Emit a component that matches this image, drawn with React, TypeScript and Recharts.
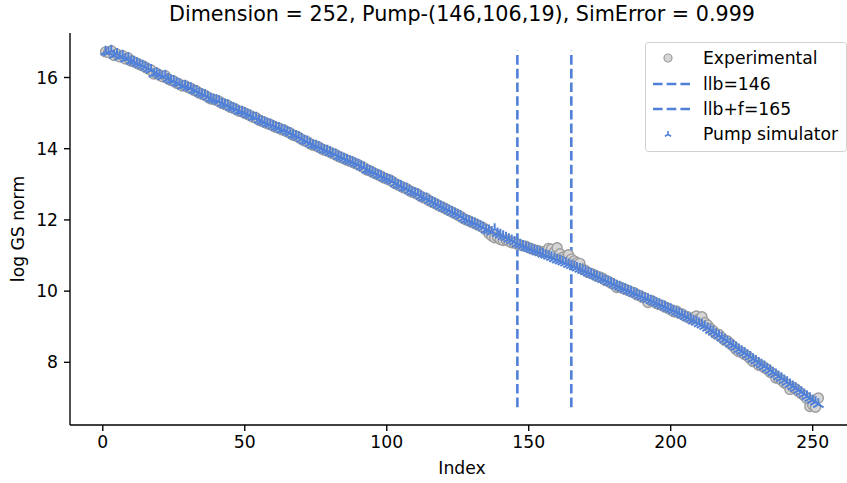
import React from "react";
import { ScatterChart, Scatter, XAxis, YAxis, ReferenceLine } from "recharts";

// Experimental log GS norm profile, indices 1..135 (simulator copies these)
const expHead: number[] = [
  16.72, 16.70, 16.75, 16.62, 16.66, 16.58, 16.61, 16.52, 16.55, 16.46,
  16.44, 16.40, 16.36, 16.33, 16.29, 16.24, 16.21, 16.10, 16.12, 16.07,
  16.02, 16.05, 15.96, 15.92, 15.90, 15.84, 15.82, 15.76, 15.77, 15.72,
  15.70, 15.64, 15.62, 15.56, 15.53, 15.50, 15.45, 15.40, 15.38, 15.36,
  15.33, 15.27, 15.24, 15.22, 15.16, 15.14, 15.10, 15.05, 15.04, 15.00,
  14.96, 14.93, 14.88, 14.87, 14.80, 14.77, 14.74, 14.70, 14.68, 14.64,
  14.60, 14.58, 14.53, 14.52, 14.47, 14.44, 14.38, 14.36, 14.32, 14.27,
  14.22, 14.20, 14.14, 14.10, 14.08, 14.05, 14.00, 13.96, 13.94, 13.90,
  13.86, 13.84, 13.78, 13.75, 13.72, 13.68, 13.65, 13.62, 13.58, 13.55,
  13.50, 13.47, 13.40, 13.38, 13.34, 13.30, 13.26, 13.23, 13.18, 13.15,
  13.12, 13.08, 13.02, 12.98, 12.95, 12.90, 12.88, 12.82, 12.78, 12.75,
  12.72, 12.66, 12.62, 12.60, 12.54, 12.50, 12.46, 12.42, 12.38, 12.34,
  12.30, 12.26, 12.22, 12.18, 12.14, 12.10, 12.04, 12.00, 11.97, 11.93,
  11.90, 11.86, 11.82, 11.78, 11.72,
];

// Experimental, indices 136..252
const expTail: number[] = [
  11.62, 11.55, 11.50, 11.52, 11.45, 11.42, 11.44, 11.40, 11.36, 11.35,
  11.32, 11.30, 11.27, 11.26, 11.22, 11.19, 11.16, 11.14, 11.12, 11.10,
  11.12, 11.20, 11.18, 11.10, 11.22, 11.05, 10.95, 10.92, 11.02, 10.90,
  10.85, 10.80, 10.78, 10.62, 10.58, 10.52, 10.50, 10.46, 10.42, 10.40,
  10.36, 10.30, 10.28, 10.22, 10.18, 10.10, 10.12, 10.08, 10.05, 10.02,
  9.98, 9.96, 9.90, 9.88, 9.82, 9.80, 9.68, 9.74, 9.70, 9.65,
  9.62, 9.60, 9.55, 9.52, 9.48, 9.42, 9.44, 9.38, 9.36, 9.30,
  9.28, 9.22, 9.25, 9.30, 9.22, 9.28, 9.12, 9.05, 8.95, 8.88,
  8.80, 8.78, 8.70, 8.62, 8.60, 8.52, 8.45, 8.36, 8.30, 8.28,
  8.22, 8.18, 8.10, 8.02, 8.00, 7.92, 7.90, 7.85, 7.80, 7.72,
  7.68, 7.56, 7.55, 7.50, 7.42, 7.38, 7.24, 7.30, 7.25, 7.18,
  7.12, 7.06, 6.98, 6.76, 6.80, 6.74, 7.00,
];

// Pump simulator, indices 136..252
const simTail: number[] = [
  11.70, 11.66, 11.74, 11.62, 11.58, 11.54, 11.50, 11.46, 11.42, 11.38,
  11.33, 11.30, 11.27, 11.23, 11.20, 11.17, 11.14, 11.11, 11.08, 11.04,
  11.01, 10.98, 10.95, 10.91, 10.88, 10.85, 10.82, 10.79, 10.75, 10.72,
  10.69, 10.65, 10.62, 10.58, 10.55, 10.51, 10.48, 10.44, 10.41, 10.37,
  10.33, 10.30, 10.26, 10.23, 10.19, 10.15, 10.12, 10.08, 10.05, 10.01,
  9.98, 9.94, 9.91, 9.87, 9.84, 9.80, 9.77, 9.73, 9.70, 9.66,
  9.63, 9.59, 9.56, 9.52, 9.49, 9.45, 9.41, 9.37, 9.33, 9.29,
  9.25, 9.21, 9.17, 9.13, 9.09, 9.05, 9.01, 8.96, 8.90, 8.85,
  8.79, 8.74, 8.69, 8.63, 8.58, 8.52, 8.47, 8.42, 8.36, 8.31,
  8.26, 8.20, 8.15, 8.09, 8.04, 7.98, 7.93, 7.88, 7.82, 7.77,
  7.71, 7.66, 7.60, 7.55, 7.49, 7.44, 7.38, 7.32, 7.27, 7.21,
  7.16, 7.10, 7.04, 6.99, 6.93, 6.88, 6.82,
];

const llb = 146;
const llbF = 165;
const xTicks = [0, 50, 100, 150, 200, 250];
const yTicks = [8, 10, 12, 14, 16];
const titleText = "Dimension = 252, Pump-(146,106,19), SimError = 0.999";
const legendLabels = ["Experimental", "llb=146", "llb+f=165", "Pump simulator"];

const experimental = [...expHead, ...expTail];
const simulated = [...expHead, ...simTail];
const expData = experimental.map((v, i) => ({ x: i + 1, y: v }));
const simData = simulated.map((v, i) => ({ x: i + 1, y: v }));
const yMin = Math.min(...experimental);
const yMax = Math.max(...experimental);

const BLUE = "#5080d8";
const FONT = "DejaVu Sans, sans-serif";
const DASH = "9.6 4.1";

const CircleShape = (p: any) => (
  <circle cx={p.cx} cy={p.cy} r={5} fill="#d6d6d6" stroke="#9c9c9c" strokeWidth={1.4} />
);

const triPath = (cx: number, cy: number, r: number) =>
  `M${cx},${cy}L${cx},${cy - r}M${cx},${cy}L${cx - 0.866 * r},${cy + 0.5 * r}M${cx},${cy}L${cx + 0.866 * r},${cy + 0.5 * r}`;

const TriShape = (p: any) => (
  <path d={triPath(p.cx, p.cy, 6)} stroke={BLUE} strokeWidth={2} fill="none" />
);

const tickStyle = { fontSize: 17.2, fontFamily: FONT, fill: "#000" };
const axisStroke = { stroke: "#000", strokeWidth: 1.38 };

export default function App() {
  const lx = 668;
  const tx = 703;
  const rows = [58, 84, 109, 134];
  return (
    <div style={{ position: "absolute", left: 0, top: 0, width: 847, height: 483, overflow: "hidden", background: "#fff" }}>
      <ScatterChart width={870} height={483} margin={{ top: 33, right: 16, bottom: 8, left: 0 }}>
        <XAxis
          xAxisId="top"
          orientation="top"
          type="number"
          dataKey="x"
          domain={[-11.55, 264.55]}
          height={0}
          tick={false}
          tickLine={false}
          axisLine={axisStroke}
        />
        <XAxis
          type="number"
          dataKey="x"
          domain={[-11.55, 264.55]}
          ticks={xTicks}
          allowDataOverflow
          height={50}
          tickSize={6}
          tickMargin={5}
          tick={tickStyle}
          axisLine={axisStroke}
          tickLine={axisStroke}
        />
        <YAxis
          type="number"
          dataKey="y"
          domain={[6.24, 17.25]}
          ticks={yTicks}
          allowDataOverflow
          width={70}
          tickSize={6}
          tickMargin={6}
          tick={tickStyle}
          axisLine={axisStroke}
          tickLine={axisStroke}
        />
        <Scatter data={expData} shape={CircleShape} isAnimationActive={false} />
        <ReferenceLine
          segment={[{ x: llb, y: yMin }, { x: llb, y: yMax }]}
          stroke={BLUE}
          strokeWidth={2.6}
          strokeDasharray={DASH}
          ifOverflow="visible"
        />
        <ReferenceLine
          segment={[{ x: llbF, y: yMin }, { x: llbF, y: yMax }]}
          stroke={BLUE}
          strokeWidth={2.6}
          strokeDasharray={DASH}
          ifOverflow="visible"
        />
        <Scatter data={simData} shape={TriShape} isAnimationActive={false} />
      </ScatterChart>
      <svg width={847} height={483} style={{ position: "absolute", left: 0, top: 0, pointerEvents: "none" }}>
        <text x={462} y={21} textAnchor="middle" fontFamily={FONT} fontSize={20.7} fill="#000">
          {titleText}
        </text>
        <text x={462} y={474} textAnchor="middle" fontFamily={FONT} fontSize={17.2} fill="#000">
          Index
        </text>
        <text
          x={0}
          y={0}
          transform="translate(24,229) rotate(-90)"
          textAnchor="middle"
          fontFamily={FONT}
          fontSize={17.2}
          fill="#000"
        >
          log GS norm
        </text>
        <rect x={645.5} y={42.5} width={201} height={109} rx={3} fill="#fff" fillOpacity={0.8} stroke="#d0d0d0" strokeWidth={1} />
        <circle cx={lx} cy={rows[0]} r={4} fill="#d6d6d6" stroke="#9c9c9c" strokeWidth={1.2} />
        <line x1={653} x2={690} y1={rows[1]} y2={rows[1]} stroke={BLUE} strokeWidth={2.6} strokeDasharray={DASH} />
        <line x1={653} x2={690} y1={rows[2]} y2={rows[2]} stroke={BLUE} strokeWidth={2.6} strokeDasharray={DASH} />
        <path d={triPath(lx, rows[3] + 0.5, 3.6)} stroke={BLUE} strokeWidth={1.6} fill="none" />
        {legendLabels.map((t, i) => (
          <text key={t} x={tx} y={rows[i] + 6.2} fontFamily={FONT} fontSize={17.2} fill="#000">
            {t}
          </text>
        ))}
      </svg>
    </div>
  );
}
